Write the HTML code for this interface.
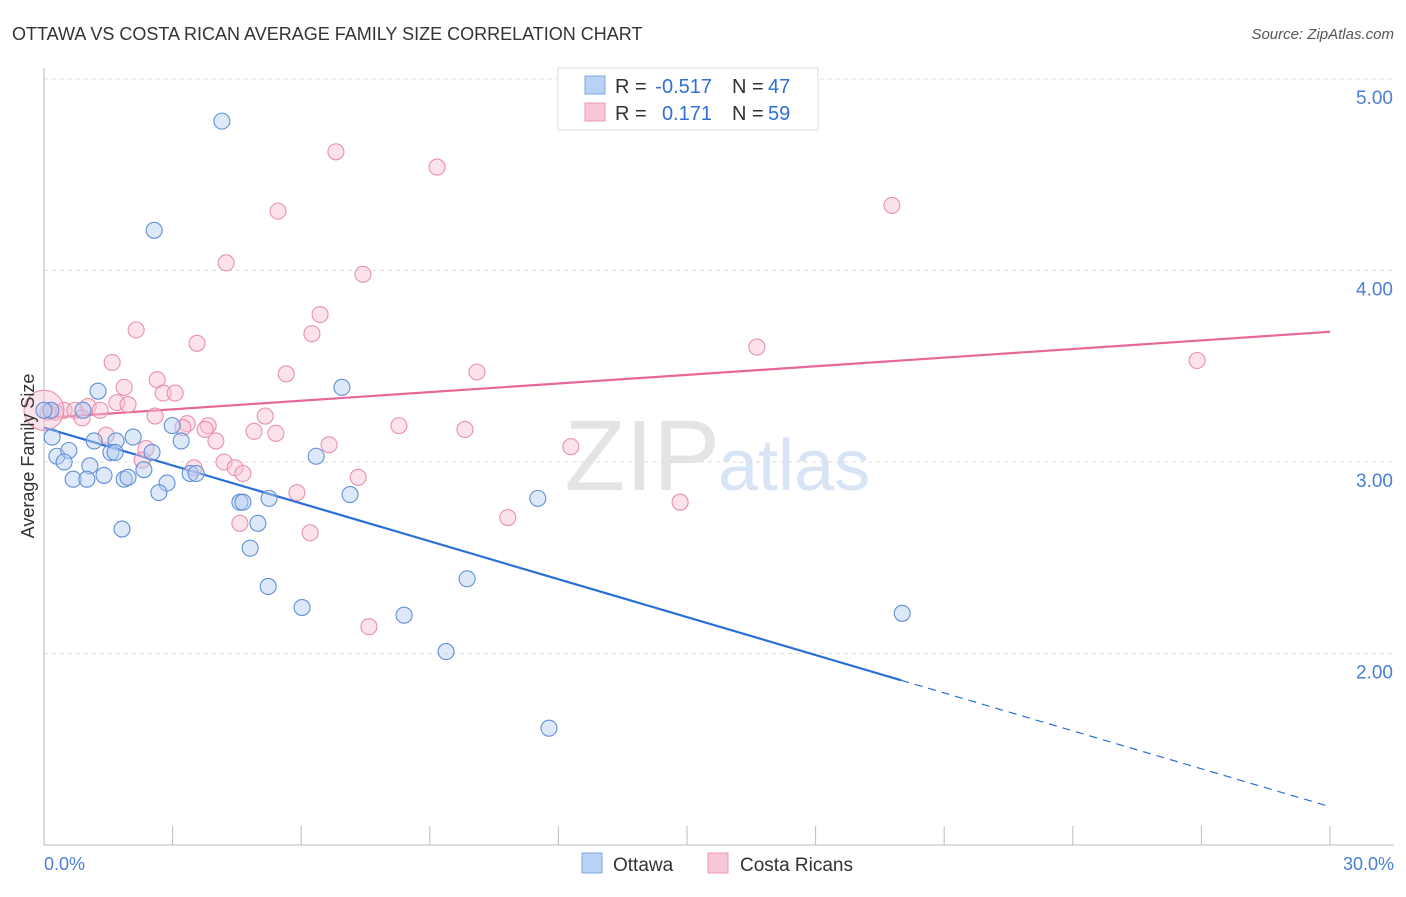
<!DOCTYPE html>
<html><head><meta charset="utf-8"><style>
body{margin:0;background:#fff;font-family:"Liberation Sans",sans-serif}
svg text{font-family:"Liberation Sans",sans-serif}
</style></head><body>
<svg id="chart" width="1406" height="892" xmlns="http://www.w3.org/2000/svg">
<text x="12" y="40" font-size="18" fill="#333">OTTAWA VS COSTA RICAN AVERAGE FAMILY SIZE CORRELATION CHART</text>
<text x="1394" y="39" font-size="15" fill="#555" font-style="italic" text-anchor="end">Source: ZipAtlas.com</text>
<text x="720" y="490" font-size="100" fill="#e4e4e4" text-anchor="end" font-family="Liberation Serif">ZIP</text>
<text x="718" y="490" font-size="72" fill="#d6e4f5">atlas</text>
<g id="grid"></g><g id="axes"></g><g id="trend"></g><g id="points"></g>
<text x="34" y="456" font-size="18" fill="#333" text-anchor="middle" transform="rotate(-90 34 456)">Average Family Size</text>
<text x="44" y="870" font-size="18" fill="#4a7fd4">0.0%</text>
<text x="1394" y="870" font-size="18" fill="#4a7fd4" text-anchor="end">30.0%</text>
<g>
<rect x="558" y="68" width="260" height="62" fill="#fff" stroke="#ddd"/>
<rect x="585" y="76" width="20" height="18" fill="#b8d2f4" stroke="#7fa8e0"/>
<rect x="585" y="103" width="20" height="18" fill="#f9c6d6" stroke="#eb9ab5"/>
<text x="615" y="93" font-size="20" fill="#333">R =</text>
<text x="712" y="93" font-size="20" fill="#2f6fd6" text-anchor="end">-0.517</text>
<text x="732" y="93" font-size="20" fill="#333">N =</text>
<text x="768" y="93" font-size="20" fill="#2f6fd6">47</text>
<text x="615" y="120" font-size="20" fill="#333">R =</text>
<text x="712" y="120" font-size="20" fill="#2f6fd6" text-anchor="end">0.171</text>
<text x="732" y="120" font-size="20" fill="#333">N =</text>
<text x="768" y="120" font-size="20" fill="#2f6fd6">59</text>
</g>
<g>
<rect x="582" y="853" width="20" height="20" fill="#b8d2f4" stroke="#7fa8e0"/>
<text x="613" y="871" font-size="19" fill="#333">Ottawa</text>
<rect x="708" y="853" width="20" height="20" fill="#f9c6d6" stroke="#eb9ab5"/>
<text x="740" y="871" font-size="19" fill="#333">Costa Ricans</text>
</g>
</svg>
<script>
const yTicks=[2,3,4,5];
const yTickLabels=["2.00","3.00","4.00","5.00"];
const xTicks=[0,3,6,9,12,15,18,21,24,27,30];
const ottawaX=[4.15,2.57,1.26,6.95,0.16,0.91,0.19,1.17,1.68,2.08,2.99,3.20,0.30,0.58,0.47,1.56,1.66,2.52,1.07,2.33,0.68,1.00,1.40,1.87,1.96,3.41,3.55,2.87,2.68,4.57,4.64,5.25,7.14,6.35,11.52,4.99,1.82,4.81,5.23,6.02,9.87,8.40,9.38,11.78,20.02,0];
const ottawaY=[4.78,4.21,3.37,3.39,3.27,3.27,3.13,3.11,3.11,3.13,3.19,3.11,3.03,3.06,3.00,3.05,3.05,3.05,2.98,2.96,2.91,2.91,2.93,2.91,2.92,2.94,2.94,2.89,2.84,2.79,2.79,2.81,2.83,3.03,2.81,2.68,2.65,2.55,2.35,2.24,2.39,2.20,2.01,1.61,2.21,3.27];
const costaX=[6.81,9.17,19.78,5.46,4.25,7.44,6.44,2.15,6.25,3.57,16.63,1.59,26.90,5.65,10.10,2.64,1.87,2.78,3.06,1.70,1.96,1.03,1.31,0.47,0.72,0.26,0.09,2.59,5.16,0.89,8.28,3.34,3.83,3.24,3.76,4.90,5.41,9.82,4.01,1.45,6.65,2.38,12.29,2.29,4.20,4.46,3.50,4.64,7.33,5.90,14.84,10.82,4.57,6.21,7.58,0];
const costaY=[4.62,4.54,4.34,4.31,4.04,3.98,3.77,3.69,3.67,3.62,3.60,3.52,3.53,3.46,3.47,3.43,3.39,3.36,3.36,3.31,3.30,3.29,3.27,3.27,3.27,3.26,3.26,3.24,3.24,3.23,3.19,3.20,3.19,3.18,3.17,3.16,3.15,3.17,3.11,3.14,3.09,3.07,3.08,3.01,3.00,2.97,2.97,2.94,2.92,2.84,2.79,2.71,2.68,2.63,2.14,3.27];
const ottawaTrend=[3.18,1.86,1.20]; const ottawaTrendX=[0,20,30];
const costaTrend=[3.23,3.68]; const costaTrendX=[0,30];
const NS="http://www.w3.org/2000/svg";
const sx=v=>44+v/30*1286, sy=v=>79+(5-v)*191.5;
function mk(tag,attrs,parent){const e=document.createElementNS(NS,tag);for(const k in attrs)e.setAttribute(k,attrs[k]);document.getElementById(parent).appendChild(e);return e;}
yTicks.forEach((t,i)=>{
 const l=mk('line',{x1:44,x2:1394,y1:sy(t),y2:sy(t),stroke:'#ddd','stroke-dasharray':'4 4'},'grid');
 
 
 const tx=mk('text',{x:1393,y:sy(t)+25,'font-size':19,fill:'#4a7fd4','text-anchor':'end'},'grid');tx.textContent=yTickLabels[i];
 
 
});
mk('line',{x1:44,x2:44,y1:68,y2:845,stroke:'#bbb'},'axes');
mk('line',{x1:44,x2:1394,y1:845,y2:845,stroke:'#bbb'},'axes');
xTicks.forEach(t=>{const l=mk('line',{x1:sx(t),x2:sx(t),y1:826,y2:845,stroke:'#bbb'},'axes');
 
 });
function dot(x,y,fill,stroke,name,r){const c=mk('circle',{cx:sx(x),cy:sy(y),r:r,fill:fill,stroke:stroke,'stroke-width':1.1,'fill-opacity':0.45},'points');
 
 }
costaX.forEach((x,i)=>dot(x,costaY[i],'#f9c0d2','#e890ad','costa-rican-point',i==costaX.length-1?20:8));
ottawaX.forEach((x,i)=>dot(x,ottawaY[i],'#b3cdf2','#5f8fd6','ottawa-point',8));
const t1=mk('line',{x1:sx(ottawaTrendX[0]),y1:sy(ottawaTrend[0]),x2:sx(ottawaTrendX[1]),y2:sy(ottawaTrend[1]),stroke:'#2a6fd8','stroke-width':2.2},'trend');


const t2=mk('line',{x1:sx(ottawaTrendX[1]),y1:sy(ottawaTrend[1]),x2:sx(ottawaTrendX[2]),y2:sy(ottawaTrend[2]),stroke:'#2a6fd8','stroke-width':1.2,'stroke-dasharray':'8 6'},'trend');


const t3=mk('line',{x1:sx(costaTrendX[0]),y1:sy(costaTrend[0]),x2:sx(costaTrendX[1]),y2:sy(costaTrend[1]),stroke:'#e8679a','stroke-width':2.2},'trend');


</script>
</body></html>
